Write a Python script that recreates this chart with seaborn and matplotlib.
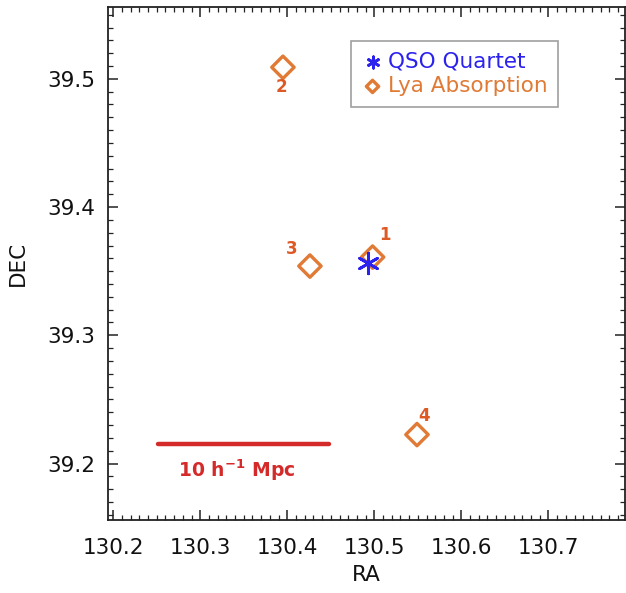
import matplotlib
matplotlib.use("Agg")
import matplotlib.pyplot as plt
import seaborn as sns
import pandas as pd
from matplotlib.ticker import MultipleLocator

sns.set_style("ticks")
plt.rcParams["font.family"] = ["DejaVu Sans"]

# Sight-line positions (RA, DEC in degrees)
qso_ra = [130.493]
qso_dec = [39.356]

abs_ids = ["1", "2", "3", "4"]
abs_ra = [130.498, 130.395, 130.426, 130.549]
abs_dec = [39.361, 39.509, 39.354, 39.2226]

# Scale bar endpoints and its caption
bar_ra = [130.252, 130.448]
bar_dec = [39.2156, 39.2156]
bar_label = r"10 h$^{\mathbf{-1}}$ Mpc"

blue = "#2b22ee"
orange = "#e07a35"
num_col = "#dd5a25"
red = "#d42a2a"

fig = plt.figure(figsize=(6.26, 5.93), dpi=100)
ax = fig.add_axes([108 / 626, 73 / 593, 517 / 626, 513 / 593])

qso = pd.DataFrame({"RA": qso_ra, "DEC": qso_dec})
absn = pd.DataFrame({"RA": abs_ra, "DEC": abs_dec, "id": abs_ids})
bar = pd.DataFrame({"RA": bar_ra, "DEC": bar_dec})

sns.lineplot(data=bar, x="RA", y="DEC", color=red, linewidth=3.2, ax=ax,
             legend=False)

sns.scatterplot(data=absn, x="RA", y="DEC", marker="D", s=130,
                facecolor="none", edgecolor=orange, linewidth=2.4, ax=ax,
                label="Lya Absorption", zorder=3)
sns.scatterplot(data=qso, x="RA", y="DEC", marker=(6, 2, 0), s=220,
                color=blue, edgecolor=blue, linewidth=2.0, ax=ax,
                label="QSO Quartet", zorder=4)

# Sight-line numbers
offsets = {"1": (12, 22), "2": (-2, -20), "3": (-18, 17), "4": (7, 19)}
for _, r in absn.iterrows():
    dx, dy = offsets[r["id"]]
    ax.annotate(r["id"], (r["RA"], r["DEC"]), xytext=(dx * 0.72, dy * 0.72),
                textcoords="offset points", ha="center", va="center",
                color=num_col, fontsize=12, fontweight="bold")

ax.annotate(bar_label, ((bar_ra[0] + bar_ra[1]) / 2, bar_dec[0]),
            xytext=(-5, -19), textcoords="offset points", ha="center",
            va="center", color=red, fontsize=13.5, fontweight="bold")

ax.set_xlim(130.194, 130.788)
ax.set_ylim(39.156, 39.556)
ax.xaxis.set_major_locator(MultipleLocator(0.1))
ax.xaxis.set_minor_locator(MultipleLocator(0.01))
ax.yaxis.set_major_locator(MultipleLocator(0.1))
ax.yaxis.set_minor_locator(MultipleLocator(0.01))
ax.xaxis.set_major_formatter(plt.FuncFormatter(lambda v, p: f"{v:.1f}"))
ax.yaxis.set_major_formatter(plt.FuncFormatter(lambda v, p: f"{v:.1f}"))
ax.tick_params(which="both", direction="in", top=True, right=True,
               color="#222222")
ax.tick_params(which="major", length=7, width=1.1, labelsize=15.5,
               labelcolor="#111111")
ax.tick_params(axis="x", which="major", pad=13)
ax.tick_params(axis="y", which="major", pad=9)
ax.tick_params(which="minor", length=3.5, width=0.9)
for sp in ax.spines.values():
    sp.set_linewidth(1.3)
    sp.set_color("#222222")

ax.set_xlabel("RA", fontsize=15.5, color="#111111", labelpad=5)
ax.set_ylabel("DEC", fontsize=15.5, color="#111111", labelpad=14)

handles, labels = ax.get_legend_handles_labels()
order = [labels.index("QSO Quartet"), labels.index("Lya Absorption")]
leg = ax.legend([handles[i] for i in order], [labels[i] for i in order],
                loc="upper left", bbox_to_anchor=(351 / 626, 1 - 41 / 593),
                bbox_transform=fig.transFigure, borderaxespad=0,
                fontsize=15.5, frameon=True, fancybox=False,
                edgecolor="#888888", handletextpad=0.2, handlelength=1.0,
                borderpad=0.5, labelspacing=0.2, markerscale=0.55)
leg.get_frame().set_linewidth(1.2)
for txt, c in zip(leg.get_texts(), [blue, orange]):
    txt.set_color(c)

fig.savefig("out.png", dpi=100)
